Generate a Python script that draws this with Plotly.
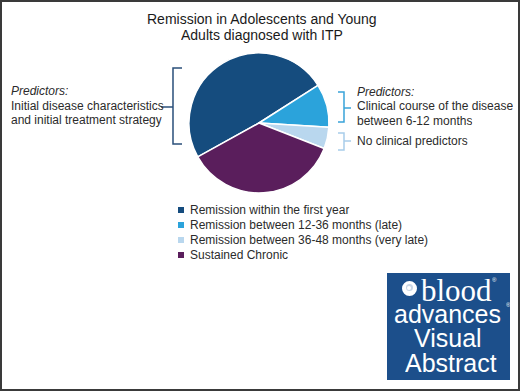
import plotly.graph_objects as go

W, H = 520, 391

title_lines = ["Remission in Adolescents and Young", "Adults diagnosed with ITP"]
labels = [
    "Remission within the first year",
    "Remission between 12-36 months (late)",
    "Remission between 36-48 months (very late)",
    "Sustained Chronic",
]
values = [49, 10, 5, 36]
colors = ["#154c7e", "#2ba3db", "#b9d7ee", "#5a1e5c"]

left_lines = ["Predictors:", "Initial disease characteristics", "and initial treatment strategy"]
right1_lines = ["Predictors:", "Clinical course of the disease", "between 6-12 months"]
right2_lines = ["No clinical predictors"]
logo_lines = ["advances", "Visual", "Abstract"]

TXT = "#2b2b2b"
FONT = "Liberation Sans, Arial, sans-serif"

def px(x):
    return x / W

def py(y):
    return 1 - y / H

# pie geometry (pixels)
cx, cy, r = 259, 123, 70

fig = go.Figure()
fig.add_trace(go.Pie(
    labels=labels, values=values, sort=False, direction="clockwise",
    rotation=-119, textinfo="none", hoverinfo="label+percent",
    marker=dict(colors=colors, line=dict(color="white", width=1.5)),
    domain=dict(x=[px(cx - r), px(cx + r)], y=[py(cy + r), py(cy - r)]),
    showlegend=False,
))

ann = []
shapes = []

# title
for i, t in enumerate(title_lines):
    ann.append(dict(x=px(262), y=py(19 + 16 * i), text=t, showarrow=False,
                    xanchor="center", yanchor="middle", height=16,
                    font=dict(size=14, color="#1a1a1a", family=FONT)))

# left text
for i, t in enumerate(left_lines):
    ann.append(dict(x=px(9), y=py(91 + 14.5 * i), text=("<i>%s</i>" % t) if i == 0 else t,
                    showarrow=False, xanchor="left", yanchor="middle", height=14,
                    font=dict(size=12, color=TXT, family=FONT)))

# right text 1
for i, t in enumerate(right1_lines):
    ann.append(dict(x=px(355), y=py(92 + 14.5 * i), text=("<i>%s</i>" % t) if i == 0 else t,
                    showarrow=False, xanchor="left", yanchor="middle", height=14,
                    font=dict(size=12, color=TXT, family=FONT)))
# right text 2
for i, t in enumerate(right2_lines):
    ann.append(dict(x=px(355), y=py(141), text=t,
                    showarrow=False, xanchor="left", yanchor="middle", height=14,
                    font=dict(size=12, color=TXT, family=FONT)))

def bracket(x, y0, y1, hook_dx, tick_dx, tick_y, color):
    path = "M %f,%f L %f,%f L %f,%f L %f,%f" % (
        px(x + hook_dx), py(y0), px(x), py(y0), px(x), py(y1), px(x + hook_dx), py(y1))
    shapes.append(dict(type="path", xref="paper", yref="paper", path=path,
                       line=dict(color=color, width=1.5)))
    shapes.append(dict(type="line", xref="paper", yref="paper",
                       x0=px(x), x1=px(x + tick_dx), y0=py(tick_y), y1=py(tick_y),
                       line=dict(color=color, width=1.5)))

bracket(173, 68, 144, 9, -12, 107, "#2a4f7a")
bracket(344, 92, 122, -6, 7, 108, "#38a3d9")
bracket(344, 133, 150, -6, 7, 141, "#a8cdea")

# custom legend
for i, (lab, col) in enumerate(zip(labels, colors)):
    yy = 210 + 15 * i
    shapes.append(dict(type="rect", xref="paper", yref="paper",
                       x0=px(178), x1=px(184), y0=py(yy - 3), y1=py(yy + 3),
                       fillcolor=col, line=dict(width=0)))
    ann.append(dict(x=px(188), y=py(yy), text=lab, showarrow=False,
                    xanchor="left", yanchor="middle", height=14,
                    font=dict(size=12, color=TXT, family=FONT)))

# logo box
LOGO = "#1c4f8b"
shapes.append(dict(type="rect", xref="paper", yref="paper",
                   x0=px(387), x1=px(510), y0=py(380), y1=py(273),
                   fillcolor=LOGO, line=dict(width=0)))
# icon
shapes.append(dict(type="circle", xref="paper", yref="paper",
                   x0=px(402), x1=px(417), y0=py(296), y1=py(281),
                   fillcolor="white", line=dict(width=0)))
shapes.append(dict(type="circle", xref="paper", yref="paper",
                   x0=px(406), x1=px(413), y0=py(291), y1=py(284),
                   fillcolor="#c9d6e6", line=dict(width=0)))
shapes.append(dict(type="circle", xref="paper", yref="paper",
                   x0=px(407), x1=px(411), y0=py(290), y1=py(286),
                   fillcolor="white", line=dict(width=0)))

ann.append(dict(x=px(419), y=py(290), text="blood", showarrow=False,
                xanchor="left", yanchor="middle", height=22,
                font=dict(size=31, color="white", family="Liberation Serif, Times New Roman, serif")))
ann.append(dict(x=px(490), y=py(280), text="®", showarrow=False,
                xanchor="left", yanchor="middle", height=6,
                font=dict(size=6, color="white", family=FONT)))
logo_y = [313, 337, 362]
logo_x = [447, 448, 451]
for t, xx, yy in zip(logo_lines, logo_x, logo_y):
    ann.append(dict(x=px(xx), y=py(yy), text=t, showarrow=False,
                    xanchor="center", yanchor="middle", height=23,
                    font=dict(size=25, color="white", family=FONT)))
ann.append(dict(x=px(504), y=py(305), text="®", showarrow=False,
                xanchor="left", yanchor="middle", height=6,
                font=dict(size=6, color="white", family=FONT)))

# frame
shapes.append(dict(type="rect", xref="paper", yref="paper",
                   x0=px(1), x1=px(519), y0=py(390), y1=py(1),
                   line=dict(color="#3a3a3a", width=2)))

fig.update_layout(
    width=W, height=H, margin=dict(l=0, r=0, t=0, b=0),
    paper_bgcolor="white", plot_bgcolor="white",
    annotations=ann, shapes=shapes, showlegend=False,
)

fig.write_html(
    "out.html",
    config={"displayModeBar": False},
    post_script="document.body.style.margin='0';document.body.style.overflow='hidden';",
)
